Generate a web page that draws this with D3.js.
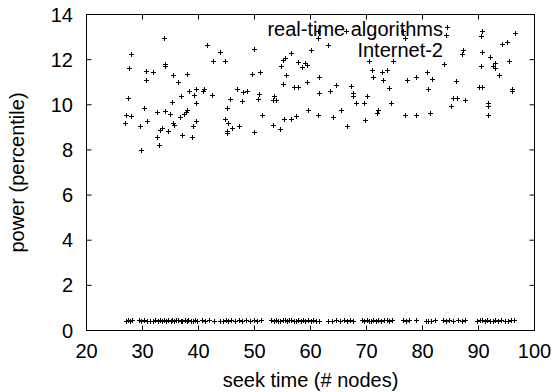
<!DOCTYPE html>
<html>
<head>
<meta charset="utf-8">
<script src="https://cdn.jsdelivr.net/npm/d3@7"></script>
<style>
  html, body { margin: 0; padding: 0; background: #fff; }
  svg { display: block; }
  text { font-family: "Liberation Sans", Arial, Helvetica, sans-serif; fill: #000; }
</style>
</head>
<body>
<svg id="chart" width="556" height="392"></svg>
<script>
// --- data -------------------------------------------------------------------
const xTicks = [20, 30, 40, 50, 60, 70, 80, 90, 100];
const yTicks = [0, 2, 4, 6, 8, 10, 12, 14];
const xLabel = 'seek time (# nodes)';
const yLabel = 'power (percentile)';
const keyLines = ['real-time algorithms', 'Internet-2'];

// upper cloud, [seek time, power]
const upperPoints = [
  [33.9,12.95],[41.6,12.66],[27.9,12.27],[42.6,11.92],[27.55,11.64],[34.1,11.8],[34.1,11.73],
  [30.6,11.5],[31.8,11.45],[30.6,11.09],[35.4,11.3],[36.4,11.03],[38.0,11.36],[27.4,10.28],
  [36.8,10.41],[38.3,10.59],[39.5,10.68],[39.2,10.44],[41.0,10.71],[40.8,10.59],[42.4,10.44],
  [39.6,10.1],[35.3,10.13],[30.2,9.84],[32.5,9.66],[34.0,9.72],[34.9,9.6],[37.9,9.78],
  [37.7,9.7],[37.4,9.61],[27.0,9.53],[27.9,9.5],[26.95,9.19],[30.8,9.3],[29.6,9.07],
  [35.5,9.19],[35.6,9.1],[36.7,9.45],[39.5,9.26],[39.0,9.07],[33.5,8.99],[33.1,8.89],
  [34.6,8.82],[32.6,8.57],[37.1,8.66],[38.8,8.57],[32.9,8.23],[29.75,8.0],
  [43.9,12.32],[44.7,11.92],[49.9,12.48],[49.5,11.37],[51.0,11.47],[56.6,12.29],[55.5,12.07],
  [55.1,11.99],[60.0,12.42],[61.4,12.95],[61.4,13.27],[57.8,11.9],[58.5,11.67],[59.1,11.83],
  [59.3,11.77],[54.8,11.71],[55.7,11.3],[61.5,11.23],[55.1,10.92],[57.0,10.81],[57.7,10.77],
  [59.3,11.03],[46.8,10.7],[48.0,10.58],[48.7,10.61],[50.8,10.49],[50.6,10.25],[53.5,10.4],
  [53.3,10.22],[53.9,10.22],[45.6,10.25],[47.7,10.15],[61.5,10.52],[45.0,9.85],[59.6,9.75],
  [61.4,9.56],[51.4,9.53],[44.7,9.37],[45.2,9.19],[45.0,8.82],[45.0,8.75],[45.9,8.97],
  [47.2,9.04],[49.9,8.79],[53.3,9.11],[54.6,8.94],[55.2,9.35],[56.6,9.39],[57.4,9.51],
  [63.1,12.66],[66.4,13.29],[70.5,11.96],[74.8,11.92],[71.0,11.52],[71.2,11.25],[72.7,11.45],
  [73.6,11.55],[73.0,11.08],[77.25,11.09],[78.9,11.23],[80.8,11.45],[74.0,10.74],[81.0,10.71],
  [64.6,10.86],[67.2,10.84],[63.4,10.59],[67.6,10.52],[67.6,10.4],[70.1,10.37],[68.1,10.1],
  [69.5,10.1],[74.3,10.07],[65.5,9.78],[64.0,9.48],[72.1,9.78],[71.8,9.63],[76.8,9.56],
  [78.9,9.56],[66.5,9.08],[69.7,9.34],[76.6,13.25],[76.9,12.95],
  [84.4,13.44],[84.2,13.1],[90.7,13.29],[90.4,13.03],[96.5,13.18],[94.2,12.7],[95.0,12.76],
  [87.25,12.44],[87.0,12.25],[90.7,12.36],[83.8,11.8],[92.1,12.11],[92.9,11.87],[92.6,11.7],
  [92.9,11.62],[90.4,11.7],[95.5,11.95],[93.6,11.33],[81.7,11.14],[85.9,11.06],[90.1,10.77],
  [90.6,10.78],[95.9,10.7],[96.0,10.63],[85.5,10.32],[86.1,10.3],[87.6,10.22],[85.05,9.96],
  [91.7,10.1],[91.7,9.96],[91.7,9.56],[81.3,9.63]
];

// lower band, [seek time, power]
const lowerPoints = [
  [27.0,0.44],[27.4,0.46],[27.8,0.43],[28.1,0.45],[29.4,0.46],[29.8,0.43],[30.3,0.45],[30.8,0.42],
  [31.3,0.44],[31.9,0.41],[32.3,0.46],[32.7,0.44],[33.1,0.47],[33.5,0.43],[33.8,0.45],[34.2,0.42],
  [34.6,0.46],[35.0,0.44],[35.3,0.47],[35.7,0.43],[36.0,0.45],[36.4,0.48],[36.8,0.44],[37.1,0.42],
  [37.5,0.45],[37.9,0.43],[38.2,0.46],[38.6,0.44],[39.0,0.42],[39.3,0.45],[39.7,0.43],[40.6,0.45],
  [41.1,0.42],[41.8,0.46],[42.7,0.44],[43.9,0.41],[44.4,0.44],[44.9,0.47],[45.3,0.43],[45.8,0.45],
  [46.5,0.42],[47.2,0.46],[47.8,0.44],[48.5,0.46],[49.2,0.43],[49.9,0.45],[50.5,0.42],[51.2,0.46],
  [53.0,0.45],[53.4,0.43],[53.8,0.46],[54.2,0.44],[54.6,0.42],[55.0,0.45],[55.4,0.47],[55.8,0.43],
  [56.2,0.45],[56.6,0.48],[57.0,0.44],[57.4,0.42],[57.8,0.46],[58.3,0.44],[58.7,0.47],[59.1,0.43],
  [59.6,0.45],[60.0,0.42],[60.5,0.46],[61.0,0.44],[61.5,0.41],[63.2,0.44],[63.8,0.42],[64.5,0.45],
  [65.2,0.43],[66.0,0.46],[66.6,0.44],[67.1,0.47],[67.6,0.43],[69.2,0.45],[69.6,0.43],[70.0,0.46],
  [70.4,0.44],[70.8,0.42],[71.2,0.47],[71.7,0.44],[72.1,0.46],[72.6,0.43],[73.1,0.45],[73.6,0.47],
  [74.1,0.43],[74.6,0.45],[76.5,0.46],[77.0,0.43],[77.6,0.45],[78.8,0.47],[80.6,0.44],[81.0,0.41],
  [81.6,0.43],[82.3,0.48],[83.6,0.46],[84.2,0.43],[84.8,0.45],[85.5,0.42],[86.3,0.45],[87.0,0.43],
  [87.6,0.46],[89.8,0.44],[90.2,0.47],[90.6,0.45],[91.1,0.43],[91.6,0.46],[92.1,0.44],[92.6,0.42],
  [93.0,0.45],[93.5,0.43],[94.1,0.46],[94.7,0.44],[95.2,0.42],[95.8,0.45],[96.4,0.47]
];

// --- layout -----------------------------------------------------------------
const svg = d3.select('#chart');
const FONT = 20;
const x = d3.scaleLinear().domain([20, 100]).range([86.5, 534.5]);
const y = d3.scaleLinear().domain([0, 14]).range([330.5, 14.5]);
const TICK = 5;

// frame
svg.append('rect')
  .attr('x', x(20)).attr('y', y(14))
  .attr('width', x(100) - x(20)).attr('height', y(0) - y(14))
  .attr('fill', 'none').attr('stroke', '#000').attr('stroke-width', 1);

// ticks (inward, mirrored on top/right like gnuplot)
const axisBottom = d3.axisBottom(x).tickValues(xTicks).tickSize(0).tickPadding(0);
const gx = svg.append('g').attr('transform', `translate(0,${y(0)})`).call(axisBottom);
gx.select('.domain').remove();
gx.selectAll('text').remove();

const tickLayer = svg.append('g').attr('stroke', '#000').attr('stroke-width', 1);
xTicks.slice(1, -1).forEach(v => {
  tickLayer.append('line').attr('x1', x(v)).attr('x2', x(v)).attr('y1', y(0)).attr('y2', y(0) - TICK);
  tickLayer.append('line').attr('x1', x(v)).attr('x2', x(v)).attr('y1', y(14)).attr('y2', y(14) + TICK);
});
yTicks.slice(1, -1).forEach(v => {
  tickLayer.append('line').attr('y1', y(v)).attr('y2', y(v)).attr('x1', x(20)).attr('x2', x(20) + TICK);
  tickLayer.append('line').attr('y1', y(v)).attr('y2', y(v)).attr('x1', x(100)).attr('x2', x(100) - TICK);
});

// tick labels
svg.append('g').selectAll('text').data(xTicks).join('text')
  .attr('x', d => x(d)).attr('y', 358)
  .attr('text-anchor', 'middle').attr('font-size', FONT)
  .text(d => d);
svg.append('g').selectAll('text').data(yTicks).join('text')
  .attr('x', 73).attr('y', d => y(d) + 7)
  .attr('text-anchor', 'end').attr('font-size', FONT)
  .text(d => d);

// axis titles
svg.append('text')
  .attr('x', (x(20) + x(100)) / 2).attr('y', 387)
  .attr('text-anchor', 'middle').attr('font-size', FONT)
  .text(xLabel);
svg.append('text')
  .attr('transform', `translate(24,${(y(0) + y(14)) / 2}) rotate(-90)`)
  .attr('text-anchor', 'middle').attr('font-size', FONT)
  .text(yLabel);

// points
const plus = 'M-2.5,0H2.5M0,-2.5V2.5';
const pts = svg.append('g').attr('stroke', '#000').attr('stroke-width', 1).attr('fill', 'none');
pts.selectAll('path.pt').data(upperPoints.concat(lowerPoints)).join('path')
  .attr('class', 'pt')
  .attr('transform', d => `translate(${Math.round(x(d[0])) + 0.5},${Math.round(y(d[1])) + 0.5})`)
  .attr('d', plus);

// key text
svg.append('g').selectAll('text').data(keyLines).join('text')
  .attr('x', 443).attr('y', (d, i) => 36 + i * 21)
  .attr('text-anchor', 'end').attr('font-size', FONT)
  .text(d => d);
</script>
</body>
</html>
